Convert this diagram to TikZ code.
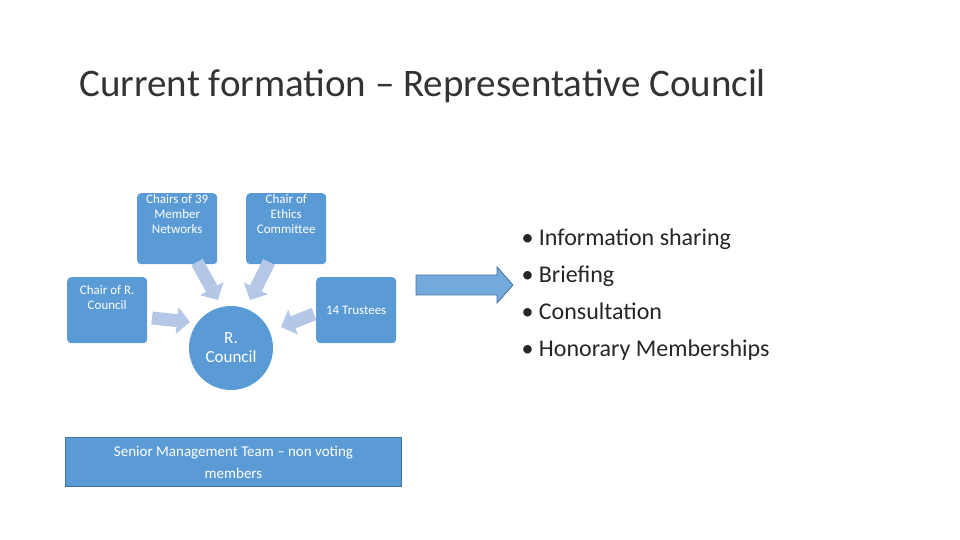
\documentclass[tikz,border=0pt]{standalone}
\usepackage{fontspec}
\setmainfont{Carlito}
\usepackage{tikz}
\usetikzlibrary{calc}
\usetikzlibrary{arrows.meta}
\definecolor{boxblue}{RGB}{91,155,213}
\definecolor{lightblue}{RGB}{180,199,231}
\definecolor{edgeblue}{RGB}{65,113,156}
\tikzset{
  member/.style={fill=boxblue,rounded corners=4pt,minimum width=80pt,minimum height=66pt,
    text=white,align=center,font=\fontsize{13}{15}\selectfont,inner sep=1pt},
  feed/.style={lightblue,line width=13pt,-{Triangle[length=13pt,width=26pt]}}
}
\begin{document}
\begin{tikzpicture}[x=1pt,y=-1pt]
  % Boundary
  \path[use as bounding box] (0,0) rectangle (960,540);
  % Title
  \node[anchor=west,font=\fontsize{39}{44}\selectfont,text=black!80] (title) at (76,86)
    {Current formation -- Representative Council};
  % Members
  \node[member,anchor=north west,text depth=30pt] (networks) at (137,193) {Chairs of 39\\Member\\Networks};
  \node[member,anchor=north west,text depth=30pt] (ethics) at (246,193) {Chair of\\Ethics\\Committee};
  \node[member,anchor=north west,text depth=25pt] (chair) at (67,277) {Chair of R.\\Council};
  \node[member,anchor=north west] (trustees) at (316,277) {14 Trustees};
  \node[circle,fill=boxblue,minimum size=84pt,text=white,align=center,
    font=\fontsize{17}{19}\selectfont] (council) at (231,348) {R.\\Council};
  % Feeds
  \coordinate (n1) at (197,262); \coordinate (n2) at (218,300);
  \coordinate (e1) at (269,262); \coordinate (e2) at (250,300);
  \coordinate (c1) at (152,318); \coordinate (c2) at (190,322);
  \coordinate (t1) at (314,314); \coordinate (t2) at (281,327);
  \draw[feed] (n1) -- (n2);
  \draw[feed] (e1) -- (e2);
  \draw[feed] (c1) -- (c2);
  \draw[feed] (t1) -- (t2);
  % Senior team
  \node[fill=boxblue,draw=edgeblue,line width=1pt,minimum width=336pt,minimum height=49pt,
    anchor=north west,text=white,align=center,font=\fontsize{15}{22}\selectfont] (senior) at (65,437)
    {Senior Management Team -- non voting\\members};
  % Big arrow
  \coordinate (a1) at (416,285); \coordinate (a2) at (513,285);
  \draw[boxblue!85,line width=20pt,-{Triangle[length=16pt,width=36pt]}] (a1) -- (a2);
  \draw[edgeblue,line width=0.8pt] (416,275) -- (497,275) -- (497,267) -- (513,285)
    -- (497,303) -- (497,295) -- (416,295) -- cycle;
  % Bullets
  \node[anchor=north west,align=left,font=\fontsize{24}{37}\selectfont,text=black!85] (points) at (518,225)
    {\textbullet\ Information sharing\\\textbullet\ Briefing\\\textbullet\ Consultation\\\textbullet\ Honorary Memberships};
\end{tikzpicture}
\end{document}
